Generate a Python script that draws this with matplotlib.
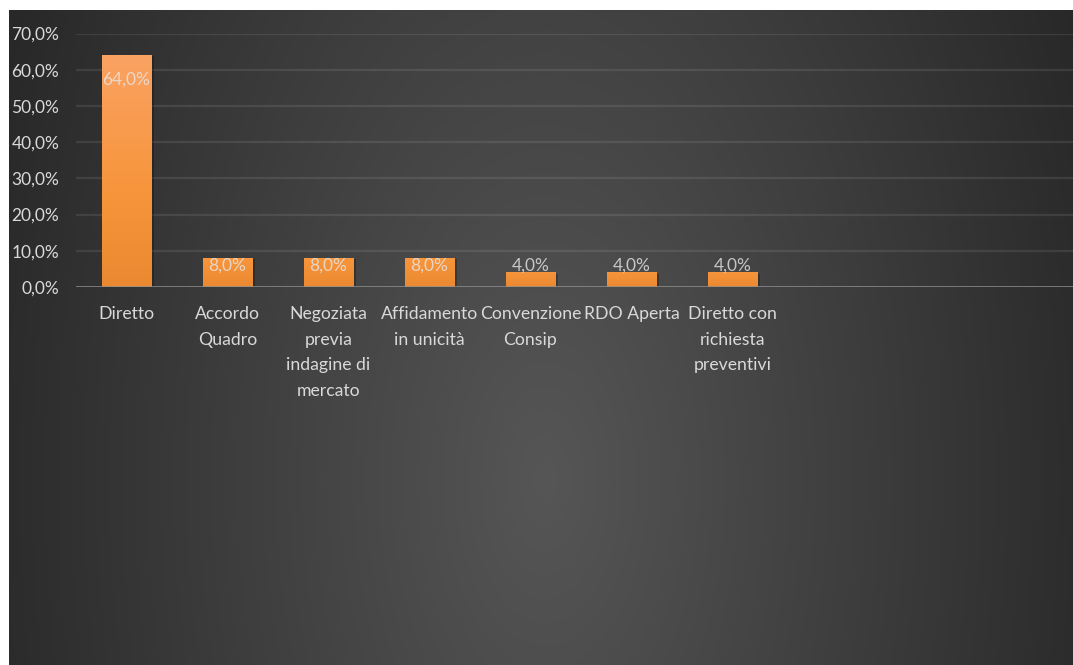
import numpy as np
import matplotlib
matplotlib.use('Agg')
import matplotlib.pyplot as plt
from matplotlib.colors import LinearSegmentedColormap

# Share of procurement procedures by type
categories = ['Diretto', 'Accordo\nQuadro', 'Negoziata\nprevia\nindagine di\nmercato',
              'Affidamento\nin unicità', 'Convenzione\nConsip', 'RDO Aperta',
              'Diretto con\nrichiesta\npreventivi']
values = [64.0, 8.0, 8.0, 8.0, 4.0, 4.0, 4.0]
y_ticks = [0, 10, 20, 30, 40, 50, 60, 70]
y_tick_labels = ['0,0%', '10,0%', '20,0%', '30,0%', '40,0%', '50,0%', '60,0%', '70,0%']

W, H = 1073, 665
plt.rcParams['font.family'] = ['Lato', 'DejaVu Sans']
fig = plt.figure(figsize=(W / 100, H / 100), dpi=100, facecolor='white')

# dark radial background of the chart area
bg = fig.add_axes([9 / W, 0, (W - 9) / W, (H - 10) / H])
bg.set_axis_off()
gx, gy = np.meshgrid(np.arange(W - 9), np.arange(H - 10))
r = np.sqrt(((gx - 536) / 590.0) ** 2 + ((gy - 470) / 1090.0) ** 2)
shade = 86 - (86 - 40) * np.clip(r, 0, 1)
rgb = np.dstack([shade, shade, shade]) / 255.0
bg.imshow(rgb, aspect='auto', extent=[0, 1, 0, 1], origin='upper', interpolation='bilinear')
bg.set_xlim(0, 1)
bg.set_ylim(0, 1)

# plot area
ax_left = 76 / W
ax_bottom = (H - 287) / H
ax_top = (H - 33.5) / H
ax = fig.add_axes([ax_left, ax_bottom, 1 - ax_left, ax_top - ax_bottom])
ax.patch.set_alpha(0)

slot = 101.0
x_max = (W - 76) / slot - 0.5

for yv in y_ticks[1:]:
    ax.axhline(yv, color='white', alpha=0.09, lw=1.6, zorder=1)
ax.axhline(0, color='#8f8f8f', lw=1.8, zorder=4)

bar_cmap = LinearSegmentedColormap.from_list('bar', ['#E6842D', '#F7953C', '#FAA262'])
bar_w = 50 / slot
x = np.arange(len(categories))
for xi, v in zip(x, values):
    # soft shadow behind each bar
    ax.bar(xi + 0.02, v, width=bar_w, bottom=-0.3, color='black', alpha=0.25, zorder=2)
    top = 0.45 + 0.55 * v / max(values)
    grad = np.linspace(0.15, top, 100).reshape(-1, 1)
    ax.imshow(grad, cmap=bar_cmap, vmin=0, vmax=1, origin='lower', aspect='auto',
              extent=[xi - bar_w / 2, xi + bar_w / 2, 0, v], zorder=3)

ax.set_xlim(-0.5, x_max)
ax.set_ylim(0, 70)

# value labels: inside the bar top where there is room, otherwise just above
px_per_unit = (287 - 33.5) / 70.0
for xi, v in zip(x, values):
    ly = max(v - 24 / px_per_unit, 5.8)
    ax.text(xi, ly, f'{v:.1f}%'.replace('.', ','), ha='center', va='center',
            fontsize=12.5, color='#E6E6E6', alpha=0.8, zorder=5)

ax.set_yticks(y_ticks)
ax.set_yticklabels(y_tick_labels)
ax.set_xticks(x)
ax.set_xticklabels(categories, linespacing=1.72)
ax.tick_params(axis='y', length=0, pad=12, labelsize=12.5, labelcolor='#D9D9D9')
ax.tick_params(axis='x', length=0, pad=14, labelsize=12.7, labelcolor='#D9D9D9')
for s in ax.spines.values():
    s.set_visible(False)

fig.savefig('out.png', dpi=100, facecolor='white')
